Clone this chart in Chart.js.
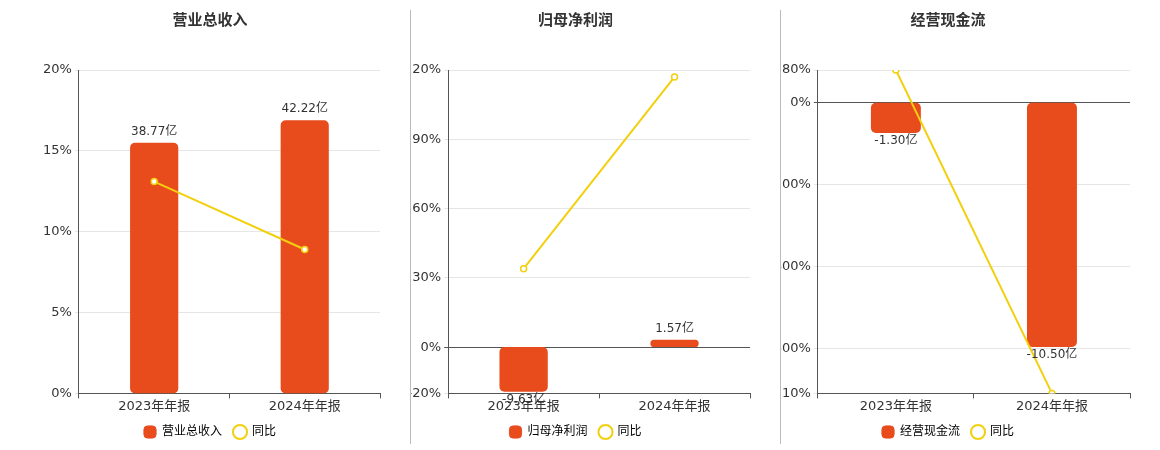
<!DOCTYPE html>
<html>
<head>
<script src="https://cdn.jsdelivr.net/npm/chart.js"></script>
<style>
body{margin:0;background:#fff;font-family:"DejaVu Sans","Noto Sans CJK SC",sans-serif}
#wrap{display:flex;width:1160px;height:450px}
.p{position:relative;height:450px}
.sep{border-left:1px solid #bbb;margin:10px 0 6px 0}
</style>
</head>
<body>
<div id="wrap">
<div class="p" style="width:410px"><canvas id="c1"></canvas></div>
<div class="sep"></div>
<div class="p" style="width:369px"><canvas id="c2"></canvas></div>
<div class="sep"></div>
<div class="p" style="width:379px"><canvas id="c3"></canvas></div>
</div>
<script>
const years = ["2023年年报", "2024年年报"];
const titles = ["营业总收入", "归母净利润", "经营现金流"];
const barValues = [[38.77, 42.22], [-9.63, 1.57], [-1.30, -10.50]];
const yoyValues = [[13.1, 8.9], [34, 117], [80, -710]];
const pctTicks = [[0, 5, 10, 15, 20], [-20, 0, 30, 60, 90, 120], [-710, -600, -400, -200, 0, 80]];
const barRanges = [[0, 50], [-10, 59.8], [-12.5, 1.41]];
const pads = [40, -10, -15];

const RED = "#E84B1C", YEL = "#F2CF0F";
const FONT = "'DejaVu Sans', 'Noto Sans CJK SC', sans-serif";

const valueLabels = {
  id: "valueLabels",
  afterDatasetsDraw(chart) {
    const ctx = chart.ctx;
    const meta = chart.getDatasetMeta(1);
    ctx.save();
    ctx.font = "12px " + FONT;
    ctx.fillStyle = "#333";
    ctx.textAlign = "center";
    meta.data.forEach((el, i) => {
      const v = chart.data.datasets[1].data[i];
      const t = v.toFixed(2) + "亿";
      if (v >= 0) { ctx.textBaseline = "bottom"; ctx.fillText(t, el.x, el.y - 5); }
      else { ctx.textBaseline = "top"; ctx.fillText(t, el.x, el.y + 2); }
    });
    ctx.restore();
  }
};

function makeChart(id, k) {
  const ticks = pctTicks[k];
  new Chart(document.getElementById(id), {
    data: {
      labels: years,
      datasets: [
        { type: "line", label: "同比", data: yoyValues[k], yAxisID: "y", borderColor: YEL, borderWidth: 2,
          pointBackgroundColor: "#fff", pointBorderColor: YEL, pointRadius: 3, pointBorderWidth: 1.5, order: 0 },
        { type: "bar", label: titles[k], data: barValues[k], yAxisID: "y2", backgroundColor: RED,
          borderRadius: 5, borderSkipped: false, barPercentage: 0.32, categoryPercentage: 1, order: 1 }
      ]
    },
    options: {
      responsive: true, maintainAspectRatio: false, animation: false,
      layout: { padding: { left: pads[k], right: 30, top: 0, bottom: 2 } },
      plugins: {
        title: { display: true, text: titles[k], color: "#333", font: { size: 15, weight: "bold", family: FONT }, padding: { top: 12, bottom: 40 } },
        legend: { position: "bottom", labels: { usePointStyle: true, boxWidth: 26, boxHeight: 10, padding: 12, color: "#333", font: { size: 12, family: FONT },
          generateLabels(chart) {
            return [
              { text: titles[k], fillStyle: RED, strokeStyle: RED, pointStyle: "rectRounded", datasetIndex: 1 },
              { text: "同比", fillStyle: "#fff", strokeStyle: YEL, lineWidth: 2, pointStyle: "circle", datasetIndex: 0 }
            ];
          } } },
        tooltip: { enabled: false }
      },
      scales: {
        x: { grid: { display: true, drawOnChartArea: false, color: "#555", tickLength: 5 }, border: { color: "#555" },
             ticks: { color: "#333", font: { size: 13, family: FONT }, padding: 0 } },
        y: { min: ticks[0], max: ticks[ticks.length - 1],
             afterBuildTicks(s) { s.ticks = ticks.map(v => ({ value: v })); },
             grid: { color: c => c.tick && c.tick.value === 0 && k > 0 ? "#555" : "#e6e6e6", tickLength: 4 },
             border: { color: "#555" },
             ticks: { color: "#333", font: { size: 13, family: FONT }, callback: v => v + "%" } },
        y2: { display: false, min: barRanges[k][0], max: barRanges[k][1] }
      }
    },
    plugins: [valueLabels]
  });
}
makeChart("c1", 0);
makeChart("c2", 1);
makeChart("c3", 2);
</script>
</body>
</html>
